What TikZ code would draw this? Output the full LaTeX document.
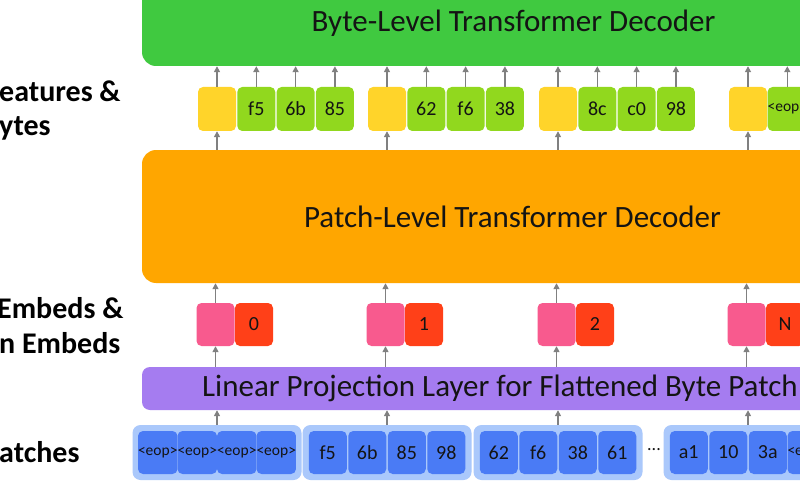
\documentclass[tikz,border=0pt]{standalone}
\usepackage{fontspec}
\setmainfont{Carlito}
\usetikzlibrary{arrows.meta}
\definecolor{bytegreen}{RGB}{64,201,64}
\definecolor{patchorange}{RGB}{255,166,0}
\definecolor{projpurple}{RGB}{165,124,240}
\definecolor{featyellow}{RGB}{255,212,42}
\definecolor{bytelime}{RGB}{145,216,30}
\definecolor{embpink}{RGB}{248,90,142}
\definecolor{posred}{RGB}{255,64,24}
\definecolor{patchblue}{RGB}{74,123,245}
\definecolor{grouplight}{RGB}{170,200,251}
\definecolor{arrowgray}{RGB}{128,128,128}
\definecolor{inkdark}{RGB}{20,20,20}
\begin{document}
\begin{tikzpicture}[x=1pt,y=-1pt,
  big/.style={rounded corners=14pt, inner sep=0pt, text=inkdark},
  cell/.style={rounded corners=5pt, minimum width=38pt, minimum height=44pt, inner sep=0pt, text=inkdark, font=\fontsize{20}{20}\selectfont},
  eop/.style={font=\fontsize{15.5}{15.5}\selectfont},
  feat/.style={cell, fill=featyellow},
  byte/.style={cell, fill=bytelime},
  pemb/.style={cell, minimum height=43pt, fill=embpink},
  posbox/.style={cell, minimum height=43pt, fill=posred},
  rawbox/.style={cell, minimum height=43pt, fill=patchblue},
  grp/.style={rounded corners=8pt, minimum width=169pt, minimum height=55pt, fill=grouplight, inner sep=0pt},
  sidelabel/.style={anchor=west, inner sep=0pt, text=black, font=\fontsize{30}{30}\selectfont\bfseries},
  arr/.style={draw=arrowgray, line width=1.5pt, -{Triangle[length=6pt,width=6pt]}}]
\useasboundingbox (0,0) rectangle (800,500);
\clip (0,0) rectangle (800,500);
\fill[white] (0,0) rectangle (800,500);

% side labels
\node[sidelabel] (lfeat) at (-1,91) {eatures \&};
\node[sidelabel] (lbytes) at (-1,128) {ytes};
\node[sidelabel] (lemb) at (-3,308) {Embeds \&};
\node[sidelabel] (lpos) at (-1,343) {n Embeds};
\node[sidelabel] (lpatch) at (-1,452) {atches};

% decoders and projection
\node[big, fill=bytegreen, minimum width=743pt, minimum height=86pt, font=\fontsize{31}{31}\selectfont] (bytedec) at (513.5,23) {Byte-Level Transformer Decoder};
\node[big, fill=patchorange, minimum width=741pt, minimum height=133pt, font=\fontsize{31}{31}\selectfont] (patchdec) at (512.5,216.5) {Patch-Level Transformer Decoder};
\node[big, rounded corners=8pt, fill=projpurple, minimum width=718pt, minimum height=43pt] (proj) at (501,388.5) {};
\node[anchor=west, inner sep=0pt, text=inkdark, font=\fontsize{31}{31}\selectfont] (projtext) at (202,388.5) {Linear Projection Layer for Flattened Byte Patch};

% patch features & bytes
\node[feat] (f1) at (217,109) {};
\node[byte] (b11) at (256.3,109) {f5};
\node[byte] (b12) at (295.6,109) {6b};
\node[byte] (b13) at (334.9,109) {85};
\node[feat] (f2) at (387,109) {};
\node[byte] (b21) at (426.3,109) {62};
\node[byte] (b22) at (465.6,109) {f6};
\node[byte] (b23) at (504.9,109) {38};
\node[feat] (f3) at (558,109) {};
\node[byte] (b31) at (597.3,109) {8c};
\node[byte] (b32) at (636.6,109) {c0};
\node[byte] (b33) at (675.9,109) {98};
\node[feat] (f4) at (748,109) {};
\node[byte, eop] (b41) at (787.3,109) {<eop>};

% patch embeds & position embeds
\node[pemb] (e1) at (215.5,324.5) {};
\node[posbox] (p1) at (254,324.5) {0};
\node[pemb] (e2) at (385.5,324.5) {};
\node[posbox] (p2) at (424,324.5) {1};
\node[pemb] (e3) at (556.5,324.5) {};
\node[posbox] (p3) at (595,324.5) {2};
\node[pemb] (e4) at (746.5,324.5) {};
\node[posbox] (p4) at (785,324.5) {N};

% byte patches
\node[grp] (g1) at (217,452.5) {};
\node[grp] (g2) at (387,452.5) {};
\node[grp] (g3) at (558,452.5) {};
\node[grp] (g4) at (748,452.5) {};
\node[rawbox, eop] (r11) at (157.75,452.5) {<eop>};
\node[rawbox, eop] (r12) at (197.25,452.5) {<eop>};
\node[rawbox, eop] (r13) at (236.75,452.5) {<eop>};
\node[rawbox, eop] (r14) at (276.25,452.5) {<eop>};
\node[rawbox] (r21) at (327.75,452.5) {f5};
\node[rawbox] (r22) at (367.25,452.5) {6b};
\node[rawbox] (r23) at (406.75,452.5) {85};
\node[rawbox] (r24) at (446.25,452.5) {98};
\node[rawbox] (r31) at (498.75,452.5) {62};
\node[rawbox] (r32) at (538.25,452.5) {f6};
\node[rawbox] (r33) at (577.75,452.5) {38};
\node[rawbox] (r34) at (617.25,452.5) {61};
\node[rawbox] (r41) at (688.75,452.5) {a1};
\node[rawbox] (r42) at (728.25,452.5) {10};
\node[rawbox] (r43) at (767.75,452.5) {3a};
\node[rawbox, eop] (r44) at (807.25,452.5) {<eop>};
\node[text=inkdark, font=\fontsize{18}{18}\selectfont] (dots) at (654,450) {...};

% arrows
\draw[arr] (f1.north) -- (f1.north |- bytedec.south);
\draw[arr] (b11.north) -- (b11.north |- bytedec.south);
\draw[arr] (b12.north) -- (b12.north |- bytedec.south);
\draw[arr] (b13.north) -- (b13.north |- bytedec.south);
\draw[arr] (f2.north) -- (f2.north |- bytedec.south);
\draw[arr] (b21.north) -- (b21.north |- bytedec.south);
\draw[arr] (b22.north) -- (b22.north |- bytedec.south);
\draw[arr] (b23.north) -- (b23.north |- bytedec.south);
\draw[arr] (f3.north) -- (f3.north |- bytedec.south);
\draw[arr] (b31.north) -- (b31.north |- bytedec.south);
\draw[arr] (b32.north) -- (b32.north |- bytedec.south);
\draw[arr] (b33.north) -- (b33.north |- bytedec.south);
\draw[arr] (f4.north) -- (f4.north |- bytedec.south);
\draw[arr] (b41.north) -- (b41.north |- bytedec.south);

\draw[arr] (f1.south |- patchdec.north) -- (f1.south);
\draw[arr] (f2.south |- patchdec.north) -- (f2.south);
\draw[arr] (f3.south |- patchdec.north) -- (f3.south);
\draw[arr] (f4.south |- patchdec.north) -- (f4.south);

\draw[arr] (e1.north) -- (e1.north |- patchdec.south);
\draw[arr] (e2.north) -- (e2.north |- patchdec.south);
\draw[arr] (e3.north) -- (e3.north |- patchdec.south);
\draw[arr] (e4.north) -- (e4.north |- patchdec.south);

\draw[arr] (e1.south |- proj.north) -- (e1.south);
\draw[arr] (e2.south |- proj.north) -- (e2.south);
\draw[arr] (e3.south |- proj.north) -- (e3.south);
\draw[arr] (e4.south |- proj.north) -- (e4.south);

\draw[arr] (g1.north) -- (g1.north |- proj.south);
\draw[arr] (g2.north) -- (g2.north |- proj.south);
\draw[arr] (g3.north) -- (g3.north |- proj.south);
\draw[arr] (g4.north) -- (g4.north |- proj.south);
\end{tikzpicture}
\end{document}
